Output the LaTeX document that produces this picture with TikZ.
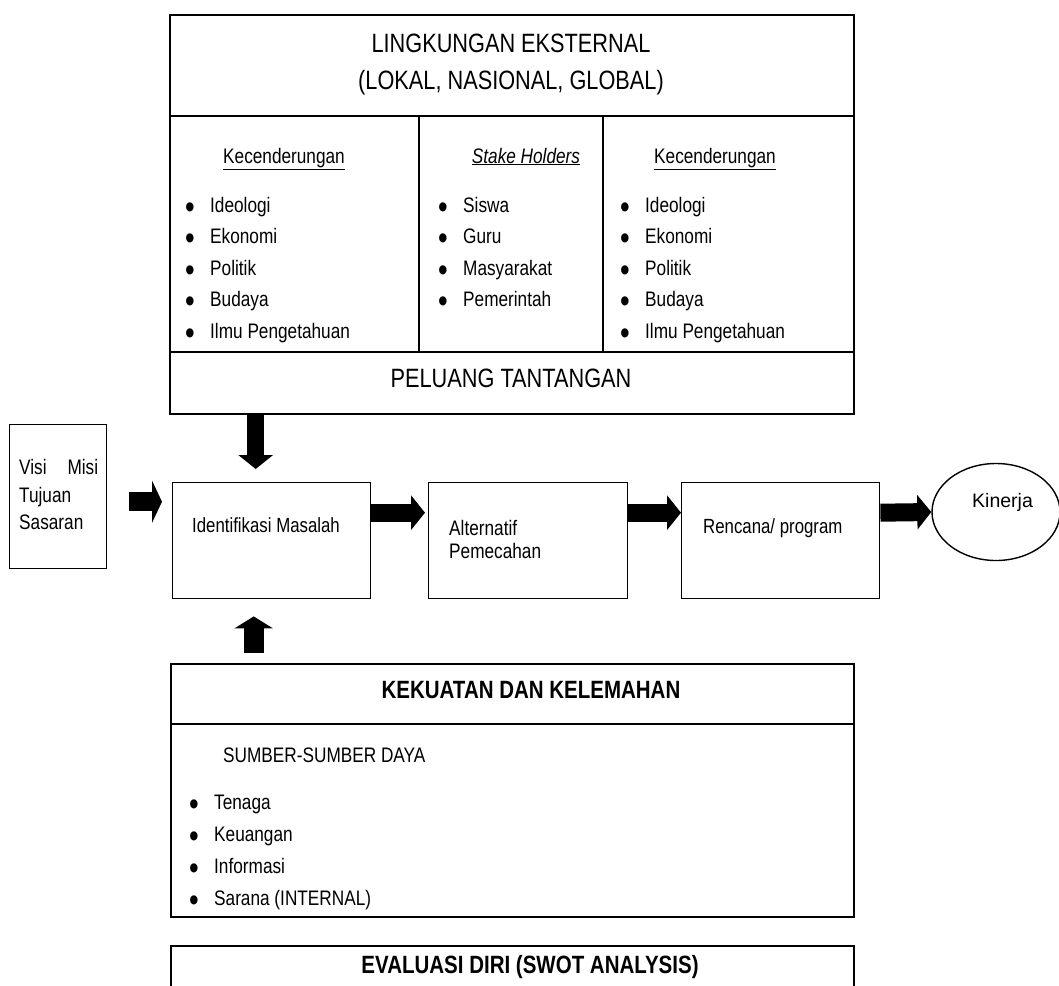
\documentclass[tikz,border=0pt]{standalone}
\usepackage{fontspec}
\setmainfont[FakeStretch=0.82]{Liberation Sans}
\newfontfamily\kinfont{Liberation Sans}
\usetikzlibrary{arrows.meta,positioning,shapes.geometric}

\tikzset{
  cell/.style={draw, line width=1.8pt, inner sep=0pt, anchor=north west},
  stepbox/.style={draw, line width=1.4pt, inner sep=0pt, anchor=north west,
    minimum width=198pt, minimum height=116pt},
  txt/.style={inner sep=0pt, anchor=base west, font=\fontsize{21}{24}\selectfont},
  title/.style={inner sep=0pt, anchor=base, font=\fontsize{26.5}{30}\selectfont},
  bhead/.style={inner sep=0pt, anchor=base, font=\bfseries\fontsize{25}{28}\selectfont},
  fat/.style={line width=18pt, -{Triangle[width=34pt,length=14pt]}},
}
\newcommand{\bul}[1]{\makebox[25pt][l]{\raisebox{-0.3em}{\scalebox{1.6}{\textbullet}}}#1}

\begin{document}
\begin{tikzpicture}[x=1pt,y=-1pt]
  \useasboundingbox (0,0) rectangle (1059,985);

  % lingkungan eksternal
  \node[cell, minimum width=684pt, minimum height=101pt] (head) at (169,14) {};
  \node[title] (headA) at (511,52) {LINGKUNGAN EKSTERNAL};
  \node[title] (headB) at (511,89) {(LOKAL, NASIONAL, GLOBAL)};

  \node[cell, minimum width=249pt, minimum height=236pt] (col1) at (169,115) {};
  \node[cell, minimum width=184pt, minimum height=236pt] (col2) at (418,115) {};
  \node[cell, minimum width=251pt, minimum height=236pt] (col3) at (602,115) {};
  \node[cell, minimum width=684pt, minimum height=62pt] (foot) at (169,351) {};

  \node[txt, anchor=base] (kec1) at (284,163) {\underline{Kecenderungan}};
  \node[txt, anchor=base] (stake) at (526,163) {\underline{\textit{Stake Holders}}};
  \node[txt, anchor=base] (kec2) at (715,163) {\underline{Kecenderungan}};

  \foreach \t [count=\i] in {Ideologi,Ekonomi,Politik,Budaya,Ilmu Pengetahuan}{
    \node[txt] (l\i) at (185,{212+31.5*(\i-1)}) {\bul{\t}};
    \node[txt] (r\i) at (620,{212+31.5*(\i-1)}) {\bul{\t}};
  }
  \foreach \t [count=\i] in {Siswa,Guru,Masyarakat,Pemerintah}
    \node[txt] (m\i) at (438,{212+31.5*(\i-1)}) {\bul{\t}};

  \node[title] (pel) at (511,387) {PELUANG TANTANGAN};

  % alur tengah
  \node[stepbox, minimum width=97pt, minimum height=144pt] (visi) at (9,424) {};
  \node[txt] (visiA) at (19,474) {\makebox[79pt][s]{Visi\hfill Misi}};
  \node[txt] (visiB) at (19,502) {Tujuan};
  \node[txt] (visiC) at (19,529) {Sasaran};

  \node[stepbox] (ident) at (172,482) {};
  \node[txt, font=\fontsize{20.5}{24}\selectfont] (identT) at (192,532) {Identifikasi Masalah};

  \node[stepbox, minimum width=199pt] (alt) at (428,482) {};
  \node[txt] (altA) at (449,535) {Alternatif};
  \node[txt] (altB) at (449,558) {Pemecahan};

  \node[stepbox] (renc) at (681,482) {};
  \node[txt, font=\fontsize{20.5}{24}\selectfont] (rencT) at (703,533) {Rencana/ program};

  \node[draw, ellipse, line width=1.4pt, inner sep=0pt,
    minimum width=128pt, minimum height=97pt] (kin) at (996,512) {};
  \node[txt, font=\kinfont\fontsize{19.5}{22}\selectfont] (kinT) at (972,507) {Kinerja};

  \coordinate (a1s) at ([yshift=-5pt]visi.east);
  \draw[fat, line width=19pt, -{Triangle[width=42pt,length=10pt]},
    shorten <=22pt, shorten >=10pt] (a1s) -- (a1s -| ident.west);
  \coordinate (a2s) at ([yshift=28pt]ident.east);
  \draw[fat, shorten >=3pt] (a2s) -- (a2s -| alt.west);
  \coordinate (a3s) at ([yshift=28pt]alt.east);
  \draw[fat] (a3s) -- (a3s -| renc.west);
  \coordinate (a4s) at ([yshift=28pt]renc.east);
  \draw[fat] (a4s) -- (kin.west);

  \coordinate (dne) at ([xshift=-16pt]ident.north);
  \draw[fat, line width=17pt, shorten >=13pt] (dne |- foot.south) -- (dne);

  % kekuatan dan kelemahan
  \node[cell, minimum width=683pt, minimum height=60pt] (kek) at (170,663) {};
  \node[cell, minimum width=683pt, minimum height=193pt] (sum) at (170,723) {};
  \node[bhead] (kekT) at (531,698) {KEKUATAN DAN KELEMAHAN};
  \node[txt] (sumT) at (223,762) {SUMBER-SUMBER DAYA};
  \foreach \t [count=\i] in {Tenaga,Keuangan,Informasi,Sarana (INTERNAL)}
    \node[txt] (s\i) at (189,{809+32*(\i-1)}) {\bul{\t}};

  \coordinate (upe) at ([xshift=-18pt]ident.south);
  \draw[fat, line width=20pt, -{Triangle[width=38pt,length=12pt]},
    shorten <=10pt, shorten >=17pt] (upe |- kek.north) -- (upe);

  \node[cell, minimum width=683pt, minimum height=50pt] (eval) at (170,945) {};
  \node[bhead] (evalT) at (530,973) {EVALUASI DIRI (SWOT ANALYSIS)};
\end{tikzpicture}
\end{document}
